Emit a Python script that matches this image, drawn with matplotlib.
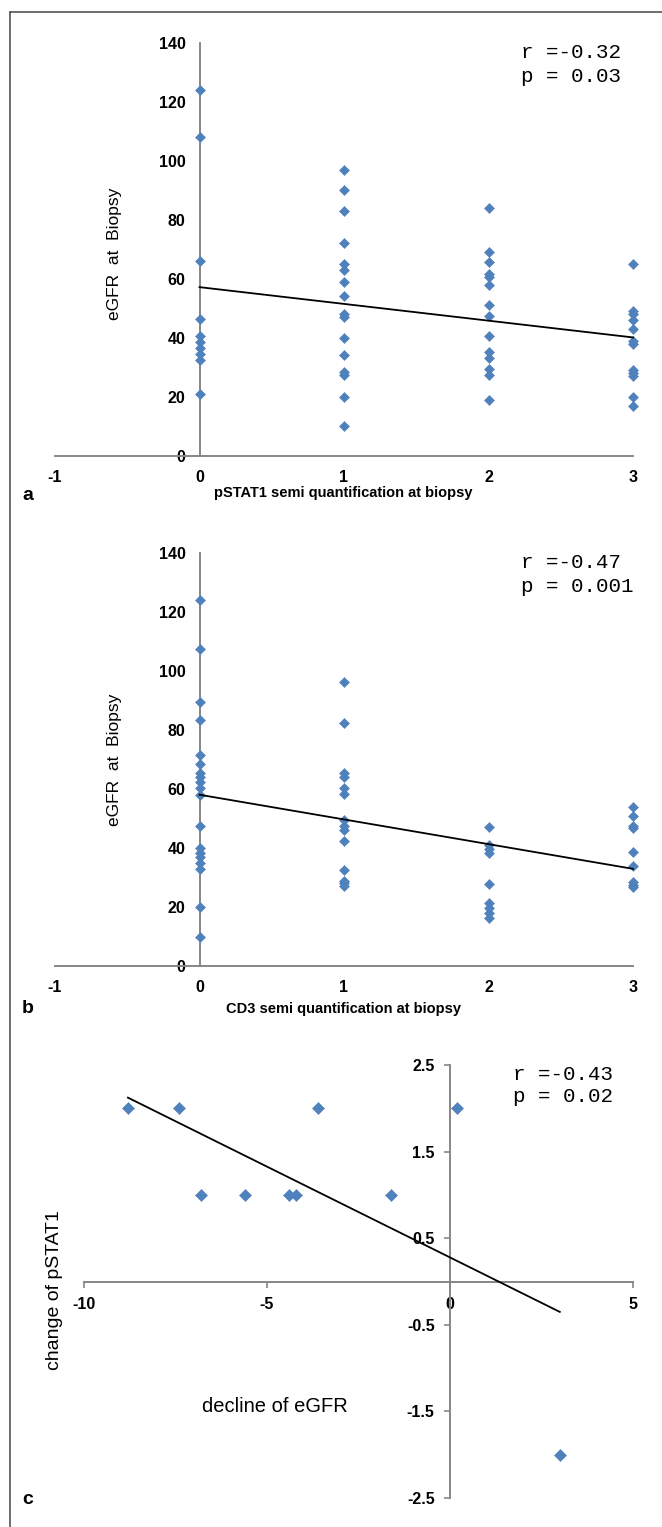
import numpy as np
import matplotlib
matplotlib.use("Agg")
import matplotlib.pyplot as plt
from matplotlib.lines import Line2D

# ---------------- data ----------------
# panel a: pSTAT1 score vs eGFR at biopsy
a_x0 = [124, 108, 66, 46.5, 40.5, 38.5, 36.5, 34.5, 32.5, 21]
a_x1 = [97, 90, 83, 72, 65, 63, 59, 54, 48, 47, 40, 34, 28.5, 27.5, 20, 10]
a_x2 = [84, 69, 65.5, 61.5, 60.5, 58, 51, 47.5, 40.5, 35, 33, 29.5, 27.5, 19]
a_x3 = [65, 49, 48, 46, 43, 39, 38, 29, 28, 27, 20, 17]

# panel b: CD3 score vs eGFR at biopsy
b_x0 = [124, 107.5, 89.5, 83.5, 71.5, 68.5, 65.5, 64, 62.5, 60.5, 58, 47.5,
        40, 38.5, 37, 35, 33, 20, 10]
b_x1 = [96.5, 82.5, 65.5, 64, 60.5, 58.5, 49.5, 47.5, 46, 42.5, 32.7, 29, 28, 27]
b_x2 = [47, 41, 39.6, 38.2, 27.8, 21.3, 19.6, 17.9, 16.2]
b_x3 = [53.8, 50.9, 47.5, 46.7, 38.8, 33.9, 28.6, 27.5, 26.7]

# panel c: decline of eGFR vs change of pSTAT1
c_decline = [-8.8, -7.4, -6.8, -5.6, -4.4, -4.2, -3.6, -1.6, 0.2, 3.0]
c_change = [2, 2, 1, 1, 1, 1, 2, 1, 2, -2]

stats_a = ["r =-0.32", "p = 0.03"]
stats_b = ["r =-0.47", "p = 0.001"]
stats_c = ["r =-0.43", "p = 0.02"]

ab_xticks = [-1, 0, 1, 2, 3]
ab_yticks = [0, 20, 40, 60, 80, 100, 120, 140]
c_xticks = [-10, -5, 0, 5]
c_yticks = [2.5, 1.5, 0.5, -0.5, -1.5, -2.5]
c_ytick_labels = ["2.5", "1.5", "0.5", "-0.5", "-1.5", "-2.5"]

# ---------------- style ----------------
W, H = 662, 1527
DPI = 100
BLUE = "#4F81BD"
AXGRAY = "#868686"
SANS = ["Liberation Sans", "DejaVu Sans"]
MONO = ["Liberation Mono", "DejaVu Sans Mono"]

plt.rcParams["font.family"] = SANS
plt.rcParams["axes.unicode_minus"] = False

fig = plt.figure(figsize=(W / DPI, H / DPI), dpi=DPI)
fig.patch.set_facecolor("white")


def fx(px):
    return px / W


def fy(py):
    return 1 - py / H


def make_axes(left, right, top, bottom):
    return fig.add_axes([fx(left), fy(bottom), (right - left) / W, (bottom - top) / H])


def style_axes(ax, ticklen, pad):
    for s in ["top", "right"]:
        ax.spines[s].set_visible(False)
    for s in ["left", "bottom"]:
        ax.spines[s].set_color(AXGRAY)
        ax.spines[s].set_linewidth(1.4)
        ax.spines[s].set_position(("data", 0))
    ax.tick_params(axis="both", length=ticklen, width=1.2, color=AXGRAY,
                   pad=pad, labelsize=11.5)
    for lab in ax.get_xticklabels() + ax.get_yticklabels():
        lab.set_fontweight("bold")
    ax.set_facecolor("none")


def flatten(groups):
    xs, ys = [], []
    for i, g in enumerate(groups):
        xs += [i] * len(g)
        ys += list(g)
    return np.array(xs, float), np.array(ys, float)


def scatter_fit(ax, xs, ys, ms):
    ax.plot(xs, ys, linestyle="none", marker="D", ms=ms, mfc=BLUE, mec=BLUE,
            mew=0.4, clip_on=False, zorder=3)
    k, b = np.polyfit(xs, ys, 1)
    xx = np.array([xs.min(), xs.max()])
    ax.plot(xx, k * xx + b, color="black", lw=1.3, clip_on=False, zorder=4)


def stat_text(lines, left, y1, y2):
    fig.text(fx(left), fy(y1), lines[0], family=MONO, fontsize=15,
             ha="left", va="center")
    fig.text(fx(left), fy(y2), lines[1], family=MONO, fontsize=15,
             ha="left", va="center")


# ---------------- panel a ----------------
ax_a = make_axes(55, 633, 42.7, 455.7)
xa, ya = flatten([a_x0, a_x1, a_x2, a_x3])
scatter_fit(ax_a, xa, ya, 5.0)
ax_a.set_xlim(-1, 3)
ax_a.set_ylim(0, 140)
ax_a.set_xticks(ab_xticks)
ax_a.set_yticks(ab_yticks)
style_axes(ax_a, 0, 10)
stat_text(stats_a, 521, 53, 76)
fig.text(fx(115), fy(254), "eGFR  at  Biopsy", rotation=90, fontsize=12.5,
         ha="center", va="center")
fig.text(fx(343), fy(493), "pSTAT1 semi quantification at biopsy", fontsize=10.5,
         fontweight="bold", ha="center", va="center")
fig.text(fx(22), fy(495), "a", fontsize=14, fontweight="bold", ha="left", va="center")

# ---------------- panel b ----------------
ax_b = make_axes(55, 633, 553.3, 966)
xb, yb = flatten([b_x0, b_x1, b_x2, b_x3])
scatter_fit(ax_b, xb, yb, 5.0)
ax_b.set_xlim(-1, 3)
ax_b.set_ylim(0, 140)
ax_b.set_xticks(ab_xticks)
ax_b.set_yticks(ab_yticks)
style_axes(ax_b, 0, 10)
stat_text(stats_b, 521, 563, 587)
fig.text(fx(115), fy(760), "eGFR  at  Biopsy", rotation=90, fontsize=12.5,
         ha="center", va="center")
fig.text(fx(343), fy(1009), "CD3 semi quantification at biopsy", fontsize=10.5,
         fontweight="bold", ha="center", va="center")
fig.text(fx(22), fy(1008), "b", fontsize=14, fontweight="bold", ha="left", va="center")

# ---------------- panel c ----------------
ax_c = make_axes(84, 633, 1065, 1498)
xc = np.array(c_decline, float)
yc = np.array(c_change, float)
scatter_fit(ax_c, xc, yc, 5.8)
ax_c.set_xlim(-10, 5)
ax_c.set_ylim(-2.5, 2.5)
ax_c.set_xticks(c_xticks)
ax_c.set_yticks(c_yticks)
ax_c.set_yticklabels(c_ytick_labels)
style_axes(ax_c, 4, 7)
stat_text(stats_c, 513, 1074, 1097)
fig.text(fx(55), fy(1290), "change of pSTAT1", rotation=90, fontsize=14,
         ha="center", va="center")
fig.text(fx(275), fy(1407), "decline of eGFR", fontsize=14.5,
         ha="center", va="center")
fig.text(fx(22), fy(1499), "c", fontsize=14, fontweight="bold", ha="left", va="center")

# ---------------- outer frame ----------------
fig.add_artist(Line2D([fx(10), fx(10)], [fy(12), fy(H + 5)], color="#555555",
                      lw=1.2, transform=fig.transFigure))
fig.add_artist(Line2D([fx(10), fx(W + 5)], [fy(12), fy(12)], color="#555555",
                      lw=1.2, transform=fig.transFigure))

fig.savefig("out.png", dpi=DPI)
